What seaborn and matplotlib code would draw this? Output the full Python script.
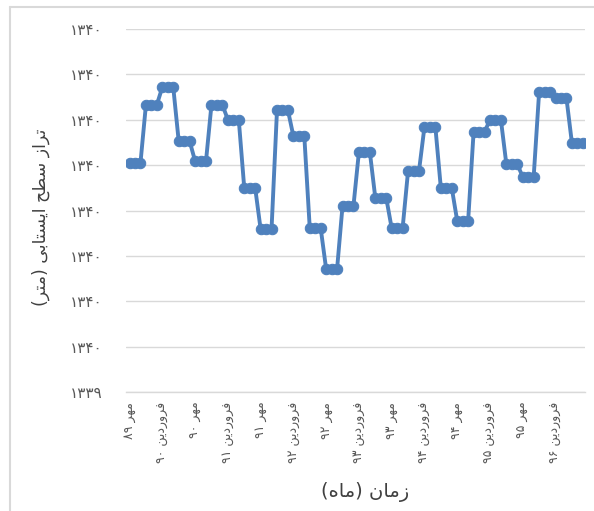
import numpy as np
import pandas as pd
import matplotlib
matplotlib.use("Agg")
import matplotlib.pyplot as plt
from matplotlib.ticker import FuncFormatter
from matplotlib.lines import Line2D
import seaborn as sns

# Monthly groundwater level (m), Mehr 1389 .. Shahrivar 1396
water_level = [
    1339.905, 1339.905, 1339.905,
    1340.033, 1340.033, 1340.033,
    1340.072, 1340.072, 1340.072,
    1339.953, 1339.953, 1339.953,
    1339.909, 1339.909, 1339.909,
    1340.033, 1340.033, 1340.033,
    1340.000, 1340.000, 1340.000,
    1339.850, 1339.850, 1339.850,
    1339.759, 1339.759, 1339.759,
    1340.021, 1340.021, 1340.021,
    1339.964, 1339.964, 1339.964,
    1339.761, 1339.761, 1339.761,
    1339.671, 1339.671, 1339.671,
    1339.810, 1339.810, 1339.810,
    1339.929, 1339.929, 1339.929,
    1339.828, 1339.828, 1339.828,
    1339.761, 1339.761, 1339.761,
    1339.887, 1339.887, 1339.887,
    1339.984, 1339.984, 1339.984,
    1339.850, 1339.850, 1339.850,
    1339.777, 1339.777, 1339.777,
    1339.973, 1339.973, 1339.973,
    1340.000, 1340.000, 1340.000,
    1339.902, 1339.902, 1339.902,
    1339.874, 1339.874, 1339.874,
    1340.061, 1340.061, 1340.061,
    1340.048, 1340.048, 1340.048,
    1339.949, 1339.949, 1339.949,
]
month_index = list(range(len(water_level)))

# Labelled months (every sixth month)
tick_labels = [
    "مهر ۸۹", "فروردین ۹۰", "مهر ۹۰", "فروردین ۹۱", "مهر ۹۱",
    "فروردین ۹۲", "مهر ۹۲", "فروردین ۹۳", "مهر ۹۳", "فروردین ۹۴",
    "مهر ۹۴", "فروردین ۹۵", "مهر ۹۵", "فروردین ۹۶",
]
y_ticks = [1339.4, 1339.5, 1339.6, 1339.7, 1339.8, 1339.9, 1340.0, 1340.1, 1340.2]

y_title = "تراز سطح ایستابی (متر)"
x_title = "زمان (ماه)"

# ---- minimal Persian shaping + right-to-left ordering for matplotlib ----
FORMS = {
    'ا': ('\uFE8D', '\uFE8E', None, None),
    'ب': ('\uFE8F', '\uFE90', '\uFE91', '\uFE92'),
    'ت': ('\uFE95', '\uFE96', '\uFE97', '\uFE98'),
    'ح': ('\uFEA1', '\uFEA2', '\uFEA3', '\uFEA4'),
    'د': ('\uFEA9', '\uFEAA', None, None),
    'ر': ('\uFEAD', '\uFEAE', None, None),
    'ز': ('\uFEAF', '\uFEB0', None, None),
    'س': ('\uFEB1', '\uFEB2', '\uFEB3', '\uFEB4'),
    'ط': ('\uFEC1', '\uFEC2', '\uFEC3', '\uFEC4'),
    'ف': ('\uFED1', '\uFED2', '\uFED3', '\uFED4'),
    'م': ('\uFEE1', '\uFEE2', '\uFEE3', '\uFEE4'),
    'ن': ('\uFEE5', '\uFEE6', '\uFEE7', '\uFEE8'),
    'ه': ('\uFEE9', '\uFEEA', '\uFEEB', '\uFEEC'),
    'و': ('\uFEED', '\uFEEE', None, None),
    'ی': ('\uFEEF', '\uFEF0', '\uFEF3', '\uFEF4'),
}
DIGITS = set("0123456789۰۱۲۳۴۵۶۷۸۹")
MIRROR = {'(': ')', ')': '('}


def shape(text):
    out = []
    for i, c in enumerate(text):
        if c not in FORMS:
            out.append(c)
            continue
        prev = text[i - 1] if i > 0 else ''
        nxt = text[i + 1] if i + 1 < len(text) else ''
        join_prev = prev in FORMS and FORMS[prev][2] is not None
        join_next = FORMS[c][2] is not None and nxt in FORMS
        iso, fin, ini, med = FORMS[c]
        if join_prev and join_next:
            out.append(med)
        elif join_prev:
            out.append(fin)
        elif join_next:
            out.append(ini)
        else:
            out.append(iso)
    return ''.join(out)


def rtl(text):
    s = shape(text)
    runs, cur, cur_digit = [], '', None
    for c in s:
        d = c in DIGITS
        if cur and d != cur_digit:
            runs.append((cur, cur_digit))
            cur = ''
        cur += c
        cur_digit = d
    if cur:
        runs.append((cur, cur_digit))
    pieces = []
    for run, is_digit in reversed(runs):
        if is_digit:
            pieces.append(run)
        else:
            pieces.append(''.join(MIRROR.get(ch, ch) for ch in reversed(run)))
    return ''.join(pieces)


def fa_digits(s):
    return s.translate(str.maketrans("0123456789", "۰۱۲۳۴۵۶۷۸۹"))


# ---- figure ----
sns.set_theme(style="white")
plt.rcParams['font.family'] = ['DejaVu Sans']

fig = plt.figure(figsize=(5.94, 5.11), dpi=100)
ax = fig.add_axes([126 / 594, 1 - 392 / 511, (585 - 126) / 594, (392 - 29) / 511])

df = pd.DataFrame({"month": month_index, "level": water_level})
sns.lineplot(data=df, x="month", y="level", ax=ax, color="#4F81BD",
             linewidth=2.8, marker="o", markersize=7.5,
             markeredgecolor="#4F81BD", markerfacecolor="#4F81BD", zorder=3)

ax.set_ylim(y_ticks[0], y_ticks[-1])
ax.set_yticks(y_ticks)
ax.yaxis.set_major_formatter(
    FuncFormatter(lambda v, p: fa_digits(str(int(np.floor(v + 0.5 + 1e-6))))))
ax.set_xlim(-0.65, 83.4)
ax.set_xticks(month_index[::6])
ax.set_xticklabels([rtl(t) for t in tick_labels], rotation=90,
                   fontsize=9, color="#595959")
ax.tick_params(axis="y", labelsize=11, labelcolor="#595959", length=0, pad=17)
ax.tick_params(axis="x", length=0, pad=7)

ax.grid(axis="y", color="#D9D9D9", linewidth=1.0)
ax.grid(axis="x", visible=False)
for side in ("left", "right", "top"):
    ax.spines[side].set_visible(False)
ax.spines["bottom"].set_color("#D9D9D9")
ax.spines["bottom"].set_linewidth(1.0)

ax.set_ylabel(rtl(y_title), fontsize=12.5, color="#404040", rotation=90)
ax.yaxis.label.set_va("center")
ax.yaxis.set_label_coords((41 - 126) / 459, (392 - 217) / 363)
ax.set_xlabel(rtl(x_title), fontsize=14, color="#404040")
ax.xaxis.label.set_va("center")
ax.xaxis.set_label_coords((365 - 126) / 459, (392 - 492) / 363)

# chart frame edges
fig.add_artist(Line2D([9.5 / 594, 9.5 / 594], [0, 1 - 7 / 511],
                      transform=fig.transFigure, color="#D9D9D9", linewidth=1.5))
fig.add_artist(Line2D([9.5 / 594, 1], [1 - 7 / 511, 1 - 7 / 511],
                      transform=fig.transFigure, color="#D9D9D9", linewidth=1.5))

fig.savefig("out.png", dpi=100, facecolor="white")
